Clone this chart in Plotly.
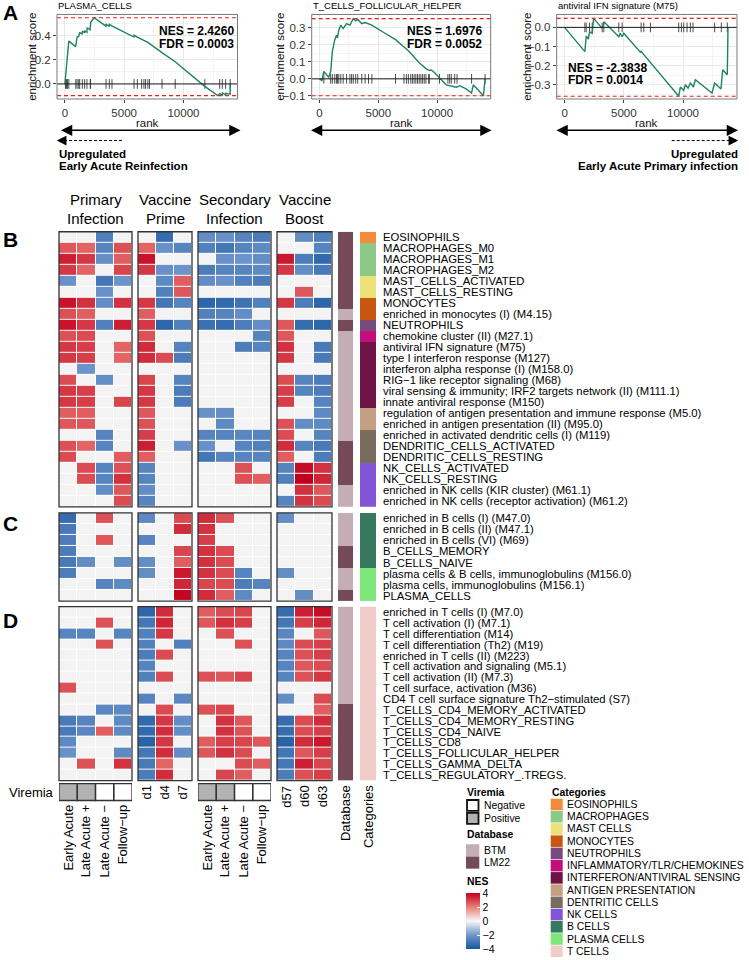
import plotly.graph_objects as go

W, H = 749, 960
FONT = "Liberation Sans, Arial, Helvetica, sans-serif"
N = None

# ---------------- Panel A data (GSEA running enrichment score) ----------------
gsea_titles = ["PLASMA_CELLS", "T_CELLS_FOLLICULAR_HELPER", "antiviral IFN signature (M75)"]
gsea_nes = [2.4260, 1.6976, -2.3838]
gsea_fdr = ["0.0003", "0.0052", "0.0014"]

es1_rank = [0, 60, 140, 230, 330, 910, 1030, 1160, 1250, 1460, 1480, 1660, 1680, 1860, 1870, 2130, 2150, 2170, 2470, 3460,
            3480, 3740, 3760, 3970, 4000, 5820, 5840, 6100, 6500, 7000, 8190, 9300, 11800, 12900, 13060, 13270, 13290,
            13550, 13570, 13940, 13950]
es1_score = [0.0, 0.06, 0.16, 0.26, 0.356, 0.31, 0.39, 0.395, 0.425, 0.415, 0.44, 0.425, 0.44, 0.43, 0.467, 0.45, 0.494,
             0.51, 0.55, 0.48, 0.495, 0.48, 0.494, 0.485, 0.48, 0.39, 0.405, 0.39, 0.37, 0.345, 0.26, 0.185, -0.02,
             -0.097, -0.08, -0.092, -0.075, -0.09, -0.078, -0.085, 0.0]
hits1 = [56, 139, 222, 333, 917, 1028, 1167, 1250, 1472, 1667, 1861, 2139, 2167, 3472, 3750, 3972, 5833, 6111, 6472,
         6667, 6806, 7000, 7139, 8194, 9306, 11806, 13056, 13278, 13556, 13944]

es2_rank = [0, 200, 370, 780, 950, 1090, 1290, 1440, 1520, 1640, 1810, 2010, 2300, 2590, 2870, 3080, 3250, 3590, 3880,
            4170, 4450, 5600, 6470, 7040, 7560, 8480, 9050, 9340, 9500, 9770, 10780, 11640, 11930, 12500, 12930, 13080,
            13940, 14080]
es2_score = [0.0, -0.01, 0.043, 0.01, 0.043, 0.16, 0.227, 0.256, 0.24, 0.285, 0.315, 0.295, 0.324, 0.315, 0.353, 0.34,
             0.348, 0.324, 0.33, 0.32, 0.315, 0.266, 0.23, 0.195, 0.165, 0.095, 0.06, 0.049, 0.052, 0.037, -0.035,
             -0.049, -0.04, -0.06, -0.083, -0.035, -0.099, 0.0]
hits2 = [374, 948, 1092, 1293, 1437, 1523, 1638, 1811, 2012, 2299, 2587, 2730, 2874, 3075, 3248, 3592, 3879, 4167, 4455,
         6466, 7185, 7386, 7558, 7759, 7903, 8047, 8191, 8335, 8478, 8622, 8766, 8909, 9053, 9283, 9340, 10203, 10921,
         11065, 11209, 11496, 11697, 12933, 14083]

es3_rank = [0, 1710, 1830, 2000, 2110, 2330, 2450, 3180, 3320, 4580, 4690, 4860, 5000, 6270, 6400, 6460, 9640, 9780,
            10060, 10200, 10430, 10620, 10880, 11040, 12450, 12670, 13210, 13350, 13740, 13800]
es3_score = [0.0, -0.127, -0.045, -0.062, -0.023, -0.031, 0.047, -0.005, 0.029, -0.049, -0.031, -0.049, -0.031, -0.118,
             -0.13, -0.125, -0.36, -0.312, -0.33, -0.30, -0.318, -0.291, -0.312, -0.274, -0.343, -0.291, -0.322,
             -0.222, -0.248, 0.0]
hits3 = [1714, 1827, 2108, 2332, 3175, 3316, 4580, 4861, 6463, 6688, 7250, 9638, 9863, 10060, 10341, 10622, 10847,
         12673, 13235, 13741]

rank_ticks = [0, 5000, 10000]

# ---------------- Heatmap data ----------------
group_headers = [("Primary", "Infection"), ("Vaccine", "Prime"), ("Secondary", "Infection"), ("Vaccine", "Boost")]
infection_cols = ["Early Acute", "Late Acute +", "Late Acute \u2212", "Follow\u2212up"]
prime_cols = ["d1", "d4", "d7"]
boost_cols = ["d57", "d60", "d63"]
viremia_status = ["Positive", "Positive", "Negative", "Negative"]

rows_B = ["EOSINOPHILS", "MACROPHAGES_M0", "MACROPHAGES_M1", "MACROPHAGES_M2", "MAST_CELLS_ACTIVATED",
          "MAST_CELLS_RESTING", "MONOCYTES", "enriched in monocytes (I) (M4.15)", "NEUTROPHILS",
          "chemokine cluster (II) (M27.1)", "antiviral IFN signature (M75)", "type I interferon response (M127)",
          "interferon alpha response (I) (M158.0)", "RIG\u22121 like receptor signaling (M68)",
          "viral sensing & immunity; IRF2 targets network (II) (M111.1)", "innate antiviral response (M150)",
          "regulation of antigen presentation and immune response (M5.0)",
          "enriched in antigen presentation (II) (M95.0)", "enriched in activated dendritic cells (I) (M119)",
          "DENDRITIC_CELLS_ACTIVATED", "DENDRITIC_CELLS_RESTING", "NK_CELLS_ACTIVATED", "NK_CELLS_RESTING",
          "enriched in NK cells (KIR cluster) (M61.1)", "enriched in NK cells (receptor activation) (M61.2)"]
# columns: Primary EA, LA+, LA-, FU | Prime d1, d4, d7 | Secondary EA, LA+, LA-, FU | Boost d57, d60, d63
nes_B = [
    [N, N, -2.7, N, N, -3.3, N, -2.3, -2.2, -2.6, -2.8, N, -2.3, -2.7],
    [2.6, 2.4, -2.6, 2.7, 2.4, -2.2, -2.6, -2.7, -3.0, -2.6, -2.4, N, N, -2.6],
    [3.5, 3.1, -2.3, 2.5, 3.7, N, N, N, -2.2, -2.1, -2.3, 3.6, -2.8, -3.4],
    [3.1, 2.4, N, 2.9, 3.1, -2.2, -2.1, -2.8, -2.6, -2.6, -2.4, 3.1, -2.3, -2.9],
    [-2.2, N, -3.0, -2.1, N, -2.4, 2.5, -2.3, -2.2, -2.7, -2.8, N, N, N],
    [N, N, -2.2, N, N, -2.7, 2.6, N, N, N, N, N, 2.6, N],
    [3.7, 3.2, -2.3, 3.2, 3.1, -3.0, -2.6, -3.5, -3.4, -3.1, -2.7, 3.1, -2.8, -3.5],
    [2.7, 2.5, N, N, 2.5, N, N, -2.7, -2.6, -2.3, N, N, N, N],
    [3.7, 3.1, -2.7, 3.5, 3.1, -3.5, -2.7, -3.2, -3.3, -2.8, -2.3, 2.6, -3.3, -3.5],
    [2.7, 2.8, N, N, 2.7, N, N, N, N, N, -2.6, 2.6, N, N],
    [3.1, 3.0, N, 2.4, 3.3, N, -2.6, N, N, -2.8, -2.6, 3.2, N, -2.9],
    [3.1, 3.0, N, 2.4, 3.3, 2.8, -2.8, N, N, N, N, 3.1, N, -2.9],
    [N, -2.1, N, N, N, N, N, N, N, N, N, N, N, N],
    [2.8, N, -2.3, N, 2.9, N, -2.6, N, N, N, N, 2.8, -2.6, -2.8],
    [3.1, 3.0, N, N, 3.1, N, -2.8, N, N, N, N, 3.0, -2.6, -2.8],
    [3.1, 3.0, N, 2.9, 3.1, N, -2.8, N, N, N, N, 3.0, N, -2.6],
    [2.5, 2.5, N, N, 2.6, N, N, -2.2, -2.3, N, N, N, N, -2.4],
    [2.6, 2.6, N, N, 2.7, N, N, N, -2.4, N, N, 2.7, -2.3, -2.4],
    [N, N, -2.6, N, 3.0, N, N, -2.6, -2.6, -2.5, -2.6, 2.8, N, -2.6],
    [2.7, 2.4, -2.6, N, 3.5, N, -2.2, -2.2, N, -2.6, -2.7, 3.3, -2.6, -2.9],
    [2.8, N, N, 2.5, 2.5, N, N, -3.0, -2.6, -2.6, -2.6, 2.5, N, -2.8],
    [N, 2.8, -2.6, 2.7, -2.6, N, N, N, N, 2.7, N, -2.6, 3.8, 3.2],
    [N, 2.8, -2.6, 3.2, -2.6, N, N, N, N, 2.7, 2.5, -2.7, 4.0, 3.4],
    [N, N, -2.3, 2.6, -2.3, N, N, N, N, N, N, N, 3.2, 2.6],
    [N, N, N, 2.8, -2.6, N, N, N, N, N, N, -2.6, 3.2, 2.8],
]
db_B = ["LM22"] * 7 + ["BTM", "LM22"] + ["BTM"] * 10 + ["LM22"] * 4 + ["BTM"] * 2
cat_B = (["EOSINOPHILS"] + ["MACROPHAGES"] * 3 + ["MAST CELLS"] * 2 + ["MONOCYTES"] * 2 + ["NEUTROPHILS"]
         + ["INFLAMMATORY/TLR/CHEMOKINES"] + ["INTERFERON/ANTIVIRAL SENSING"] * 6 + ["ANTIGEN PRESENTATION"] * 2
         + ["DENTRITIC CELLS"] * 3 + ["NK CELLS"] * 4)

rows_C = ["enriched in B cells (I) (M47.0)", "enriched in B cells (II) (M47.1)", "enriched in B cells (VI) (M69)",
          "B_CELLS_MEMORY", "B_CELLS_NAIVE", "plasma cells & B cells, immunoglobulins (M156.0)",
          "plasma cells, immunoglobulins (M156.1)", "PLASMA_CELLS"]
nes_C = [
    [-3.3, N, 2.7, N, -2.4, N, 2.8, 3.3, 2.7, N, N, -2.3, N, N],
    [-2.9, N, N, N, N, N, 3.3, 3.2, N, N, N, N, N, N],
    [-2.8, N, 2.6, N, -2.6, N, N, 3.0, N, N, N, N, N, N],
    [-2.8, N, N, N, N, N, 2.9, 3.2, 2.8, N, N, N, N, N],
    [-2.9, -2.3, N, -2.3, -2.3, N, 2.5, 3.2, 2.8, N, N, N, N, N],
    [-2.8, N, N, N, -2.3, N, 3.6, 3.2, 2.8, -2.6, N, -2.3, N, N],
    [N, N, -2.6, -2.4, N, N, 3.4, 2.9, 2.8, -2.8, -2.6, N, N, N],
    [N, N, N, N, N, N, 3.9, 3.3, 2.5, -2.4, N, N, -2.3, N],
]
db_C = ["BTM"] * 3 + ["LM22"] * 2 + ["BTM"] * 2 + ["LM22"]
cat_C = ["B CELLS"] * 5 + ["PLASMA CELLS"] * 3

rows_D = ["enriched in T cells (I) (M7.0)", "T cell activation (I) (M7.1)", "T cell differentiation (M14)",
          "T cell differentiation (Th2) (M19)", "enriched in T cells (II) (M223)",
          "T cell activation and signaling (M5.1)", "T cell activation (II) (M7.3)", "T cell surface, activation (M36)",
          "CD4 T cell surface signature Th2\u2212stimulated (S7)", "T_CELLS_CD4_MEMORY_ACTIVATED",
          "T_CELLS_CD4_MEMORY_RESTING", "T_CELLS_CD4_NAIVE", "T_CELLS_CD8", "T_CELLS_FOLLICULAR_HELPER",
          "T_CELLS_GAMMA_DELTA", "T_CELLS_REGULATORY_.TREGS."]
nes_D = [
    [N, N, N, N, -3.5, 3.3, N, 2.5, 2.8, 2.9, N, -3.3, 3.5, 3.8],
    [N, N, 2.7, N, -3.0, 3.4, N, 2.6, 3.2, 3.0, N, -3.0, 3.0, 3.4],
    [-2.6, -2.6, N, -2.6, -2.7, 3.1, N, N, 2.7, N, N, -2.5, N, 2.6],
    [N, N, 2.7, N, -2.7, N, -2.7, N, N, 2.7, N, -2.4, 2.8, 3.0],
    [N, N, N, N, -2.8, 2.8, N, N, N, N, N, -2.6, 2.7, 3.0],
    [N, N, N, N, -2.6, N, N, N, N, N, N, -2.6, 2.6, 2.8],
    [N, N, N, N, -2.7, 2.8, N, 2.7, 2.6, 2.9, N, -2.6, 2.7, 3.1],
    [2.7, N, N, N, N, N, N, N, N, N, N, N, N, N],
    [N, N, N, N, -2.6, N, -2.5, N, N, N, N, -2.3, N, 2.8],
    [N, N, -2.5, -2.4, N, 2.8, N, 2.7, 2.9, N, N, N, N, 2.5],
    [-2.9, -2.6, N, -2.4, -3.4, 3.1, -2.3, N, 3.2, 2.6, N, -3.3, 2.8, 3.3],
    [-2.9, -2.5, 2.5, -2.4, -3.4, 3.3, -2.3, N, 3.2, 2.7, N, -3.3, 2.8, 3.0],
    [-2.4, N, N, N, -3.6, 3.1, N, 2.5, 3.0, 2.9, 2.6, -3.6, 3.3, 3.6],
    [-2.2, N, N, -2.4, -3.0, 3.3, -2.3, 2.6, 3.2, 2.8, N, -3.0, 2.6, 3.0],
    [N, 2.7, N, 3.2, -2.9, 2.4, N, N, N, 2.8, 2.5, -3.0, 3.5, 2.9],
    [N, N, N, N, -2.8, 3.3, N, N, 2.9, 2.5, N, -2.8, 2.7, 3.0],
]
db_D = ["BTM"] * 9 + ["LM22"] * 7
cat_D = ["T CELLS"] * 16

db_names = ["BTM", "LM22"]
db_colors = ["#c4aeb6", "#744a58"]
cat_names = ["EOSINOPHILS", "MACROPHAGES", "MAST CELLS", "MONOCYTES", "NEUTROPHILS", "INFLAMMATORY/TLR/CHEMOKINES",
             "INTERFERON/ANTIVIRAL SENSING", "ANTIGEN PRESENTATION", "DENTRITIC CELLS", "NK CELLS", "B CELLS",
             "PLASMA CELLS", "T CELLS"]
cat_colors = ["#f48b3b", "#8cc887", "#ebe178", "#c7560f", "#784b7d", "#c30f7d", "#6e1446", "#c3a082", "#786c5f",
              "#8255d7", "#37785f", "#7de678", "#f0cdc8"]
nes_ticks = [4, 2, 0, -2, -4]

# ---------------- helpers ----------------
fig = go.Figure()
layout_axes = {}
ax_count = [0]
shapes = []
annotations = []


def new_axes(x0, x1, y0, y1, xopt, yopt):
    ax_count[0] += 1
    k = ax_count[0]
    s = "" if k == 1 else str(k)
    layout_axes["xaxis" + s] = dict(domain=[x0 / W, x1 / W], anchor="y" + s, **xopt)
    layout_axes["yaxis" + s] = dict(domain=[1 - y1 / H, 1 - y0 / H], anchor="x" + s, **yopt)
    return "x" + s, "y" + s


def hidden(lo, hi):
    return dict(range=[lo, hi], visible=False, fixedrange=True)


def text(x, y, s, size=11.0, bold=False, xanchor="left", yanchor="middle", angle=0, color="#000000",
         xref="paper", yref="paper"):
    if xref == "paper":
        x = x / W
    if yref == "paper":
        y = 1 - y / H
    annotations.append(dict(x=x, y=y, xref=xref, yref=yref, text=("<b>%s</b>" % s) if bold else s,
                            showarrow=False, xanchor=xanchor, yanchor=yanchor, textangle=angle,
                            borderpad=0, font=dict(family=FONT, size=size, color=color)))


def minus(v, fmt):
    return (fmt % v).replace("-", "\u2212")


def discrete_scale(colors):
    n = len(colors)
    cs = []
    for i, c in enumerate(colors):
        cs.append([i / n, c])
        cs.append([(i + 1) / n, c])
    return cs


# ---------------- Panel A ----------------
gsea = [(es1_rank, es1_score, hits1), (es2_rank, es2_score, hits2), (es3_rank, es3_score, hits3)]
panel_x = [(57, 237.5), (311.7, 490.7), (556.7, 737)]
panel_yr = [(-0.125, 0.5775), (-0.118, 0.3775), (-0.3746, 0.0676)]
panel_yt = [[0, 0.2, 0.4], [-0.1, 0, 0.1, 0.2, 0.3], [-0.3, -0.2, -0.1, 0]]
panel_ystep = [0.2, 0.1, 0.1]
ytitle_x = [32, 280, 527]
nes_text_pos = [(158, 31.5), (406, 31.5), (567, 68.3)]
XR = [-665, 14560]
tickfont = dict(family=FONT, size=11.5, color="#333333")

for p in range(3):
    rk, sc, hits = gsea[p]
    x0, x1 = panel_x[p]
    yr = panel_yr[p]
    step = panel_ystep[p]
    xa, ya = new_axes(
        x0, x1, 14.5, 99.3,
        dict(range=XR, tickvals=rank_ticks, ticktext=[str(v) for v in rank_ticks], ticks="outside", ticklen=3,
             tickcolor="#444", showgrid=True, gridcolor="#e8e8e8", gridwidth=1,
             minor=dict(tickvals=[2500, 7500, 12500], showgrid=True, gridcolor="#f4f4f4", ticks=""),
             zeroline=False, showline=False, tickfont=tickfont, fixedrange=True),
        dict(range=list(yr), tickvals=panel_yt[p], ticktext=[minus(v, "%.1f") for v in panel_yt[p]],
             ticks="outside", ticklen=3, tickcolor="#444", showgrid=True, gridcolor="#e8e8e8",
             minor=dict(dtick=step, tick0=step / 2, showgrid=True, gridcolor="#f4f4f4", ticks=""),
             zeroline=False, showline=False, tickfont=tickfont, fixedrange=True))
    # hit ticks
    d = (max(sc) - min(sc)) / 16.0
    hx, hy = [], []
    for h in hits:
        hx += [h, h, None]
        hy += [-d, d, None]
    fig.add_trace(go.Scatter(x=hx, y=hy, mode="lines", line=dict(color="#3a3a3a", width=0.9),
                             xaxis=xa, yaxis=ya, hoverinfo="skip"))
    # zero line and max / min dashed lines
    shapes.append(dict(type="line", xref=xa + " domain", x0=0, x1=1, yref=ya, y0=0, y1=0,
                       line=dict(color="#1a1a1a", width=1)))
    for v in (max(sc), min(sc)):
        shapes.append(dict(type="line", xref=xa + " domain", x0=0, x1=1, yref=ya, y0=v, y1=v,
                           line=dict(color="#e8201c", width=1.1, dash="4px,3px")))
    fig.add_trace(go.Scatter(x=rk, y=sc, mode="lines", line=dict(color="#1c8463", width=1.4),
                             xaxis=xa, yaxis=ya, hoverinfo="skip"))
    shapes.append(dict(type="rect", xref=xa + " domain", yref=ya + " domain", x0=0, x1=1, y0=0, y1=1,
                       line=dict(color="#7a7a7a", width=1)))
    text(x0, 6, gsea_titles[p], size=9.5)
    text(ytitle_x[p], 57, "enrichment score", size=11.5, xanchor="center", angle=-90, color="#111")
    text((x0 + x1) / 2, 123.5, "rank", size=11.5, xanchor="center", color="#111")
    tx, ty = nes_text_pos[p]
    text(tx, ty, "NES = %.4f" % gsea_nes[p], size=12, bold=True)
    text(tx, ty + 12.4, "FDR = %s" % gsea_fdr[p], size=12, bold=True)

# double arrows under panels
for (a0, a1) in [(59.5, 240.5), (309.5, 491.5), (555, 738)]:
    annotations.append(dict(x=a1 / W, y=1 - 130.7 / H, xref="paper", yref="paper", ax=-(a1 - a0), ay=0,
                            axref="pixel", ayref="pixel", showarrow=True, arrowhead=2, arrowside="end+start",
                            arrowsize=1.5, arrowwidth=1.5, arrowcolor="#000", text=""))
# dashed arrows
shapes.append(dict(type="line", xref="paper", yref="paper", x0=64 / W, x1=123.3 / W, y0=1 - 141 / H, y1=1 - 141 / H,
                   line=dict(color="#000", width=1, dash="3px,2px")))
annotations.append(dict(x=56.7 / W, y=1 - 141 / H, xref="paper", yref="paper", ax=9, ay=0, showarrow=True,
                        arrowhead=2, arrowsize=1.5, arrowwidth=1.3, arrowcolor="#000", text=""))
shapes.append(dict(type="line", xref="paper", yref="paper", x0=671.7 / W, x1=731 / W, y0=1 - 141 / H, y1=1 - 141 / H,
                   line=dict(color="#000", width=1, dash="3px,2px")))
annotations.append(dict(x=738.3 / W, y=1 - 141 / H, xref="paper", yref="paper", ax=-9, ay=0, showarrow=True,
                        arrowhead=2, arrowsize=1.5, arrowwidth=1.3, arrowcolor="#000", text=""))
text(58, 154.5, "Upregulated", size=11.5, bold=True)
text(58, 166.7, "Early Acute Reinfection", size=11.5, bold=True)
text(738.5, 154.5, "Upregulated", size=11.5, bold=True, xanchor="right")
text(738.5, 166.7, "Early Acute Primary infection", size=11.5, bold=True, xanchor="right")

# ---------------- Panels B/C/D heatmaps ----------------
nes_scale = [[0.0, "#16579f"], [0.25, "#7097cc"], [0.5, "#f7f7f7"], [0.75, "#ea7d75"], [1.0, "#c2001d"]]
blocks = [(59, 132, 0, 4, infection_cols, True), (138, 192, 4, 7, prime_cols, False),
          (198, 271, 7, 11, infection_cols, True), (277, 332, 11, 14, boost_cols, False)]
sections = [(rows_B, nes_B, db_B, cat_B, 232.5, 508.5), (rows_C, nes_C, db_C, cat_C, 514.5, 603),
            (rows_D, nes_D, db_D, cat_D, 608.5, 783)]
first_block_axes = []
show_scale = True
for si, (rows, nes, db, cat, y0, y1) in enumerate(sections):
    nr = len(rows)
    for bi, (bx0, bx1, c0, c1, labels, vir) in enumerate(blocks):
        nc = c1 - c0
        xa, ya = new_axes(bx0, bx1, y0, y1, hidden(-0.5, nc - 0.5), hidden(nr - 0.5, -0.5))
        if si == 0:
            first_block_axes.append(xa)
        z = [r[c0:c1] for r in nes]
        fig.add_trace(go.Heatmap(z=[[0] * nc for _ in rows], x=list(range(nc)), y=list(range(nr)),
                                 colorscale=[[0, "#f3f3f3"], [1, "#f3f3f3"]], showscale=False, xgap=1, ygap=1,
                                 xaxis=xa, yaxis=ya, hoverinfo="skip"))
        hm = dict(z=z, x=list(range(nc)), y=list(range(nr)), colorscale=nes_scale, zmin=-4, zmax=4,
                  xgap=1, ygap=1, xaxis=xa, yaxis=ya, showscale=show_scale)
        if show_scale:
            hm["colorbar"] = dict(x=466 / W, xanchor="left", y=1 - 896 / H, yanchor="top", len=56,
                                  lenmode="pixels", thickness=13.5, outlinewidth=0, xpad=0, ypad=0,
                                  tickvals=nes_ticks, ticktext=[minus(v, "%d") for v in nes_ticks],
                                  ticks="inside", ticklen=3, tickcolor="white",
                                  tickfont=dict(family=FONT, size=10.5, color="#000"))
            show_scale = False
        fig.add_trace(go.Heatmap(**hm))
        shapes.append(dict(type="rect", xref=xa + " domain", yref=ya + " domain", x0=0, x1=1, y0=0, y1=1,
                           line=dict(color="#333333", width=1.3)))
        if si == len(sections) - 1:
            # viremia row + column labels
            if vir:
                vxa, vya = new_axes(bx0, bx1, 786, 803, hidden(-0.5, nc - 0.5), hidden(-0.5, 0.5))
                fig.add_trace(go.Heatmap(z=[[1 if v == "Positive" else 0 for v in viremia_status]],
                                         x=list(range(nc)), y=[0], colorscale=[[0, "#ffffff"], [1, "#b2b2b2"]],
                                         zmin=0, zmax=1, showscale=False, xaxis=vxa, yaxis=vya, hoverinfo="skip"))
                for i in range(nc):
                    shapes.append(dict(type="rect", xref=vxa, yref=vya + " domain", x0=i - 0.5, x1=i + 0.5,
                                       y0=0, y1=1, line=dict(color="#333333", width=1.3)))
                ly = 806
            else:
                ly = 787
            for i, lab in enumerate(labels):
                text(i, ly, lab, size=13, xanchor="center", yanchor="top", angle=-90, xref=xa)
    # database bar
    dxa, dya = new_axes(338, 353, y0, y1, hidden(-0.5, 0.5), hidden(nr - 0.5, -0.5))
    fig.add_trace(go.Heatmap(z=[[db_names.index(v)] for v in db], x=[0], y=list(range(nr)),
                             colorscale=discrete_scale(db_colors), zmin=-0.5, zmax=len(db_names) - 0.5,
                             showscale=False, xaxis=dxa, yaxis=dya, hoverinfo="skip"))
    # categories bar
    cxa, cya = new_axes(360, 376, y0, y1, hidden(-0.5, 0.5), hidden(nr - 0.5, -0.5))
    fig.add_trace(go.Heatmap(z=[[cat_names.index(v)] for v in cat], x=[0], y=list(range(nr)),
                             colorscale=discrete_scale(cat_colors), zmin=-0.5, zmax=len(cat_names) - 0.5,
                             showscale=False, xaxis=cxa, yaxis=cya, hoverinfo="skip"))
    for i, lab in enumerate(rows):
        text(382, i, lab, size=11.3, yref=cya)
    if si == len(sections) - 1:
        text(0, 787, "Database", size=13, xanchor="center", yanchor="top", angle=-90, xref=dxa)
        text(0, 787, "Categories", size=13, xanchor="center", yanchor="top", angle=-90, xref=cxa)

# group headers
for bi, (top, bottom) in enumerate(group_headers):
    text(0.5, 200, top, size=15, xanchor="center", xref=first_block_axes[bi] + " domain")
    text(0.5, 219, bottom, size=15, xanchor="center", xref=first_block_axes[bi] + " domain")
text(55, 795, "Viremia", size=13, xanchor="right")

# panel letters
for lab, y in [("A", 13), ("B", 240), ("C", 525), ("D", 622)]:
    text(2, y, lab, size=21, bold=True)

# ---------------- legends ----------------
LF = 10.4
text(466, 795, "Viremia", size=LF, bold=True)
for i, (name, col) in enumerate([("Negative", "#ffffff"), ("Positive", "#b2b2b2")]):
    yc = 808 + i * 13
    shapes.append(dict(type="rect", xref="paper", yref="paper", x0=467 / W, x1=478.5 / W,
                       y0=1 - (yc + 5.5) / H, y1=1 - (yc - 5.5) / H, fillcolor=col, line=dict(color="#111", width=1.8)))
    text(483, yc, name, size=LF)
text(466, 837.3, "Database", size=LF, bold=True)
for i, (name, col) in enumerate(zip(db_names, db_colors)):
    yc = 853 + i * 12.3
    shapes.append(dict(type="rect", xref="paper", yref="paper", x0=466 / W, x1=479.3 / W,
                       y0=1 - (yc + 6.1) / H, y1=1 - (yc - 6.1) / H, fillcolor=col, line=dict(width=0)))
    text(483, yc, name, size=LF)
text(466, 884.5, "NES", size=LF, bold=True)
text(551, 795, "Categories", size=LF, bold=True)
for i, (name, col) in enumerate(zip(cat_names, cat_colors)):
    yc = 807 + i * 12.27
    shapes.append(dict(type="rect", xref="paper", yref="paper", x0=550.7 / W, x1=562.7 / W,
                       y0=1 - (yc + 5.8) / H, y1=1 - (yc - 5.8) / H, fillcolor=col, line=dict(width=0)))
    text(566, yc, name, size=LF)

fig.update_layout(width=W, height=H, margin=dict(l=0, r=0, t=0, b=0), plot_bgcolor="white", paper_bgcolor="white",
                  showlegend=False, shapes=shapes, annotations=annotations, font=dict(family=FONT),
                  **layout_axes)
fig.write_html("out.html", config={"displayModeBar": False}, post_script=(
    "document.body.style.margin='0';document.body.style.padding='0';"
    "document.body.style.overflow='hidden';document.documentElement.style.overflow='hidden';"))
